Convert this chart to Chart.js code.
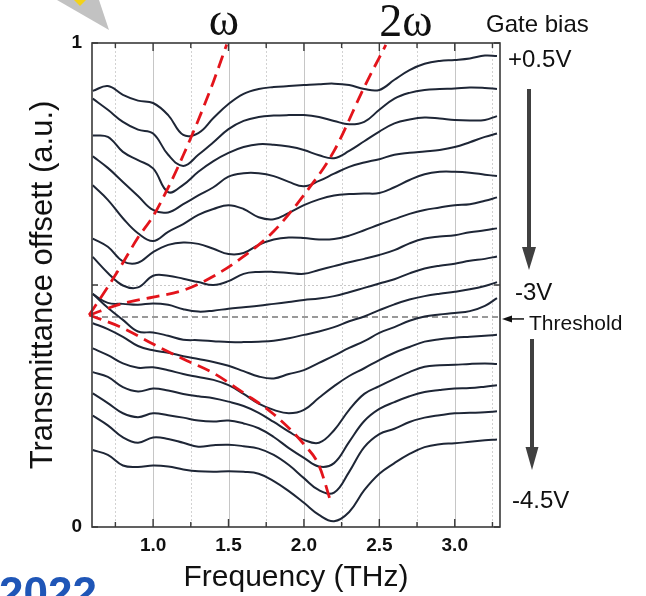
<!DOCTYPE html>
<html>
<head>
<meta charset="utf-8">
<script src="https://cdn.jsdelivr.net/npm/chart.js@4.4.1/dist/chart.umd.min.js"></script>
<style>
  html, body { margin: 0; padding: 0; background: #fff; }
  #wrap { width: 646px; height: 596px; }
</style>
</head>
<body>
<div id="wrap"><canvas id="chart" width="646" height="596"></canvas></div>
<script>
// frequency grid (THz) shared by every trace
const freq = [0.6, 0.7, 0.8, 0.9, 1.0, 1.1, 1.2, 1.3, 1.4, 1.5, 1.6, 1.7, 1.8, 1.9, 2.0,
  2.1, 2.2, 2.3, 2.4, 2.5, 2.6, 2.7, 2.8, 2.9, 3.0, 3.1, 3.2, 3.28];

// transmittance offset (a.u.), top trace = +0.5V, bottom trace = -4.5V
const trace1 = [0.901, 0.911, 0.893, 0.881, 0.876, 0.851, 0.810, 0.814, 0.845, 0.874, 0.895, 0.905, 0.909, 0.911,
  0.913, 0.915, 0.916, 0.913, 0.905, 0.903, 0.924, 0.944, 0.957, 0.963, 0.965, 0.968, 0.974, 0.973];
const trace2 = [0.885, 0.862, 0.837, 0.821, 0.813, 0.769, 0.746, 0.769, 0.795, 0.822, 0.839, 0.847, 0.850, 0.851,
  0.851, 0.847, 0.839, 0.832, 0.837, 0.862, 0.885, 0.897, 0.903, 0.905, 0.906, 0.908, 0.907, 0.905];
const trace3 = [0.809, 0.806, 0.775, 0.758, 0.741, 0.692, 0.707, 0.734, 0.756, 0.773, 0.785, 0.791, 0.790, 0.786,
  0.779, 0.768, 0.762, 0.777, 0.797, 0.817, 0.834, 0.842, 0.846, 0.844, 0.841, 0.840, 0.841, 0.849];
const trace4 = [0.766, 0.742, 0.713, 0.684, 0.655, 0.650, 0.667, 0.685, 0.702, 0.724, 0.731, 0.731, 0.725, 0.713,
  0.704, 0.715, 0.730, 0.744, 0.753, 0.760, 0.769, 0.773, 0.776, 0.779, 0.785, 0.795, 0.806, 0.813];
const trace5 = [0.706, 0.676, 0.638, 0.607, 0.591, 0.610, 0.626, 0.645, 0.657, 0.665, 0.657, 0.640, 0.636, 0.649,
  0.665, 0.677, 0.685, 0.688, 0.689, 0.690, 0.702, 0.717, 0.729, 0.734, 0.734, 0.732, 0.728, 0.725];
const trace6 = [0.596, 0.579, 0.549, 0.546, 0.568, 0.583, 0.588, 0.585, 0.575, 0.564, 0.566, 0.583, 0.594, 0.598,
  0.597, 0.594, 0.595, 0.602, 0.613, 0.625, 0.636, 0.647, 0.655, 0.660, 0.665, 0.667, 0.674, 0.681];
const trace7 = [0.558, 0.525, 0.499, 0.495, 0.519, 0.519, 0.513, 0.506, 0.500, 0.508, 0.523, 0.527, 0.527, 0.525,
  0.523, 0.531, 0.539, 0.547, 0.554, 0.562, 0.572, 0.586, 0.596, 0.600, 0.603, 0.609, 0.613, 0.617];
const trace8 = [0.481, 0.463, 0.461, 0.459, 0.462, 0.459, 0.450, 0.445, 0.447, 0.451, 0.454, 0.457, 0.461, 0.465,
  0.469, 0.472, 0.477, 0.485, 0.494, 0.503, 0.512, 0.524, 0.534, 0.540, 0.544, 0.550, 0.554, 0.559];
const trace9 = [0.482, 0.453, 0.428, 0.404, 0.402, 0.395, 0.387, 0.386, 0.384, 0.382, 0.382, 0.383, 0.385, 0.390,
  0.397, 0.404, 0.413, 0.425, 0.435, 0.448, 0.460, 0.470, 0.477, 0.482, 0.486, 0.491, 0.498, 0.506];
const trace10 = [0.421, 0.409, 0.393, 0.374, 0.365, 0.360, 0.353, 0.347, 0.341, 0.333, 0.322, 0.311, 0.307, 0.316,
  0.324, 0.339, 0.354, 0.370, 0.384, 0.401, 0.413, 0.426, 0.435, 0.439, 0.442, 0.446, 0.457, 0.473];
const trace11 = [0.369, 0.355, 0.338, 0.329, 0.330, 0.324, 0.316, 0.310, 0.304, 0.293, 0.275, 0.255, 0.242, 0.235,
  0.242, 0.267, 0.291, 0.312, 0.328, 0.345, 0.360, 0.372, 0.383, 0.388, 0.391, 0.393, 0.395, 0.397];
const trace12 = [0.320, 0.310, 0.289, 0.280, 0.286, 0.282, 0.275, 0.270, 0.266, 0.259, 0.250, 0.236, 0.217, 0.197,
  0.180, 0.174, 0.200, 0.242, 0.275, 0.291, 0.306, 0.320, 0.331, 0.334, 0.335, 0.337, 0.338, 0.337];
const trace13 = [0.276, 0.256, 0.235, 0.227, 0.235, 0.231, 0.226, 0.220, 0.218, 0.220, 0.214, 0.204, 0.186, 0.163,
  0.143, 0.125, 0.132, 0.176, 0.219, 0.244, 0.258, 0.270, 0.279, 0.283, 0.286, 0.287, 0.290, 0.293];
const trace14 = [0.230, 0.210, 0.185, 0.174, 0.185, 0.182, 0.174, 0.166, 0.169, 0.170, 0.167, 0.162, 0.149, 0.128,
  0.101, 0.076, 0.071, 0.114, 0.165, 0.192, 0.203, 0.217, 0.226, 0.231, 0.235, 0.236, 0.237, 0.239];
const trace15 = [0.159, 0.149, 0.127, 0.124, 0.127, 0.125, 0.119, 0.115, 0.114, 0.115, 0.114, 0.110, 0.095, 0.074,
  0.050, 0.025, 0.012, 0.031, 0.076, 0.110, 0.132, 0.151, 0.165, 0.171, 0.173, 0.176, 0.179, 0.181];

// red dashed guides
const omegaFreq = [0.576, 0.70, 0.80, 0.90, 1.00, 1.10, 1.20, 1.30, 1.40, 1.488];
const omegaLevel = [0.438, 0.496, 0.546, 0.598, 0.642, 0.701, 0.768, 0.841, 0.920, 0.997];
const twoOmegaFreq = [0.576, 0.8, 1.0, 1.2, 1.4, 1.6, 1.8, 2.0, 2.2, 2.4, 2.543];
const twoOmegaLevel = [0.438, 0.462, 0.475, 0.489, 0.518, 0.559, 0.611, 0.686, 0.777, 0.909, 0.996];
const lowerFreq = [0.576, 0.8, 1.0, 1.2, 1.4, 1.6, 1.8, 2.0, 2.1, 2.18];
const lowerLevel = [0.438, 0.411, 0.378, 0.347, 0.318, 0.277, 0.233, 0.171, 0.127, 0.050];

const thresholdLevel = 0.434;

const xTickValues = [0.75, 1.0, 1.25, 1.5, 1.75, 2.0, 2.25, 2.5, 2.75, 3.0, 3.25];
const xTickLabels = ['', '1.0', '', '1.5', '', '2.0', '', '2.5', '', '3.0', ''];
const yTickValues = [0, 0.5, 1];
const yTickLabels = ['0', '', '1'];

const sans = '"Liberation Sans", Arial, sans-serif';
const serif = '"Liberation Serif", "Times New Roman", serif';

const traces = [trace1, trace2, trace3, trace4, trace5, trace6, trace7, trace8,
  trace9, trace10, trace11, trace12, trace13, trace14, trace15];

const pairs = (xs, ys) => xs.map((v, i) => ({ x: v, y: ys[i] }));

const datasets = traces.map((t) => ({
  data: pairs(freq, t),
  borderColor: '#1e2636',
  borderWidth: 2,
  tension: 0.4,
  pointRadius: 0,
  order: 1,
}));

datasets.push({
  data: [{ x: 0.595, y: thresholdLevel }, { x: 3.3, y: thresholdLevel }],
  borderColor: '#999999',
  borderWidth: 2,
  borderDash: [6, 4],
  pointRadius: 0,
  order: 2,
});

[[omegaFreq, omegaLevel], [twoOmegaFreq, twoOmegaLevel], [lowerFreq, lowerLevel]].forEach(([xs, ys]) => {
  datasets.push({
    data: pairs(xs, ys),
    borderColor: '#e3141b',
    borderWidth: 2.8,
    borderDash: [13, 7],
    cubicInterpolationMode: 'monotone',
    pointRadius: 0,
    clip: false,
    order: 0,
  });
});

function arrowDown(ctx, x, y0, y1, headLen, headW) {
  ctx.fillStyle = '#404040';
  ctx.fillRect(x - 2, y0, 4, y1 - y0 - headLen + 2);
  ctx.beginPath();
  ctx.moveTo(x - headW / 2, y1 - headLen);
  ctx.lineTo(x + headW / 2, y1 - headLen);
  ctx.lineTo(x, y1);
  ctx.closePath();
  ctx.fill();
}

const framePlugin = {
  id: 'framePlugin',
  beforeDatasetsDraw(chart) {
    const { ctx, chartArea: a, scales: { x, y } } = chart;
    ctx.save();
    ctx.lineWidth = 1;
    xTickValues.forEach((v, i) => {
      const px = Math.round(x.getPixelForValue(v)) + 0.5;
      const major = xTickLabels[i] !== '';
      ctx.strokeStyle = major ? '#c6c6c6' : '#d2d2d2';
      ctx.setLineDash(major ? [] : [2, 2]);
      ctx.beginPath();
      ctx.moveTo(px, a.top);
      ctx.lineTo(px, a.bottom);
      ctx.stroke();
    });
    const py = Math.round(y.getPixelForValue(0.5)) + 0.5;
    ctx.strokeStyle = '#c8c8c8';
    ctx.setLineDash([2, 2]);
    ctx.beginPath();
    ctx.moveTo(a.left, py);
    ctx.lineTo(a.right, py);
    ctx.stroke();
    ctx.restore();
  },
  afterDraw(chart) {
    const { ctx, chartArea: a, scales: { x, y } } = chart;
    ctx.save();

    // frame + inward ticks
    ctx.strokeStyle = '#3a3a3a';
    ctx.lineWidth = 1.6;
    ctx.strokeRect(a.left, a.top, a.right - a.left, a.bottom - a.top);
    ctx.lineWidth = 1.4;
    xTickValues.forEach((v, i) => {
      const px = x.getPixelForValue(v);
      const len = xTickLabels[i] !== '' ? 8 : 5;
      ctx.beginPath();
      ctx.moveTo(px, a.bottom);
      ctx.lineTo(px, a.bottom - len);
      ctx.moveTo(px, a.top);
      ctx.lineTo(px, a.top + len);
      ctx.stroke();
    });
    yTickValues.forEach((v) => {
      const py = y.getPixelForValue(v);
      ctx.beginPath();
      ctx.moveTo(a.left, py);
      ctx.lineTo(a.left + 6, py);
      ctx.moveTo(a.right, py);
      ctx.lineTo(a.right - 6, py);
      ctx.stroke();
    });

    // top labels
    ctx.fillStyle = '#111';
    ctx.textBaseline = 'alphabetic';
    ctx.textAlign = 'center';
    ctx.font = '46px ' + serif;
    ctx.fillText('ω', 224, 35);
    ctx.fillText('2ω', 406, 36);

    // right side legend of gate bias
    ctx.textAlign = 'left';
    ctx.font = '24px ' + sans;
    ctx.fillText('Gate bias', 486, 32);
    ctx.fillText('+0.5V', 508, 67);
    ctx.fillText('-3V', 515, 300);
    ctx.fillText('-4.5V', 512, 508);
    ctx.font = '21px ' + sans;
    ctx.fillText('Threshold', 529, 330);

    arrowDown(ctx, 529, 89, 270, 23, 14);
    arrowDown(ctx, 532, 339, 470, 23, 13);

    // threshold pointer
    const ty = y.getPixelForValue(thresholdLevel) + 2;
    ctx.strokeStyle = '#111';
    ctx.lineWidth = 1.5;
    ctx.beginPath();
    ctx.moveTo(510, ty);
    ctx.lineTo(524, ty);
    ctx.stroke();
    ctx.fillStyle = '#111';
    ctx.beginPath();
    ctx.moveTo(502, ty);
    ctx.lineTo(512, ty - 3.5);
    ctx.lineTo(512, ty + 3.5);
    ctx.closePath();
    ctx.fill();

    // decoration pieces at the page corners
    ctx.fillStyle = '#c2c2c2';
    ctx.beginPath();
    ctx.moveTo(57, 0);
    ctx.lineTo(99, 0);
    ctx.lineTo(109, 30);
    ctx.closePath();
    ctx.fill();
    ctx.fillStyle = '#f2d21a';
    ctx.beginPath();
    ctx.moveTo(74, 0);
    ctx.lineTo(86, 0);
    ctx.lineTo(80, 6);
    ctx.closePath();
    ctx.fill();

    ctx.fillStyle = '#1f56b7';
    ctx.font = 'bold 44px ' + sans;
    ctx.fillText('2022', -1, 608);

    ctx.restore();
  },
};

new Chart(document.getElementById('chart'), {
  type: 'line',
  data: { datasets },
  plugins: [framePlugin],
  options: {
    responsive: false,
    animation: false,
    devicePixelRatio: 1,
    layout: { padding: { top: 43, right: 146, left: 0, bottom: 0 } },
    plugins: { legend: { display: false }, tooltip: { enabled: false } },
    elements: { point: { radius: 0 } },
    scales: {
      x: {
        type: 'linear',
        min: 0.595,
        max: 3.3,
        afterFit: (s) => { s.height = 69; },
        afterBuildTicks: (s) => { s.ticks = xTickValues.map((v) => ({ value: v })); },
        grid: { display: false, drawTicks: false },
        border: { display: false },
        ticks: {
          autoSkip: false,
          maxRotation: 0,
          padding: 7,
          color: '#111',
          font: { family: sans, size: 19, weight: 'bold' },
          callback: (v, i) => xTickLabels[i],
        },
        title: {
          display: true,
          text: 'Frequency (THz)',
          color: '#111',
          font: { family: sans, size: 30 },
          padding: { top: 0, bottom: 0 },
        },
      },
      y: {
        min: 0,
        max: 1,
        afterFit: (s) => { s.width = 92; },
        afterBuildTicks: (s) => { s.ticks = yTickValues.map((v) => ({ value: v })); },
        grid: { display: false, drawTicks: false },
        border: { display: false },
        ticks: {
          padding: 10,
          color: '#111',
          font: { family: sans, size: 19, weight: 'bold' },
          callback: (v, i) => yTickLabels[i],
        },
        title: {
          display: true,
          text: 'Transmittance offsett (a.u.)',
          color: '#111',
          font: { family: sans, size: 31 },
          padding: { top: 25, bottom: 0 },
        },
      },
    },
  },
});
</script>
</body>
</html>
